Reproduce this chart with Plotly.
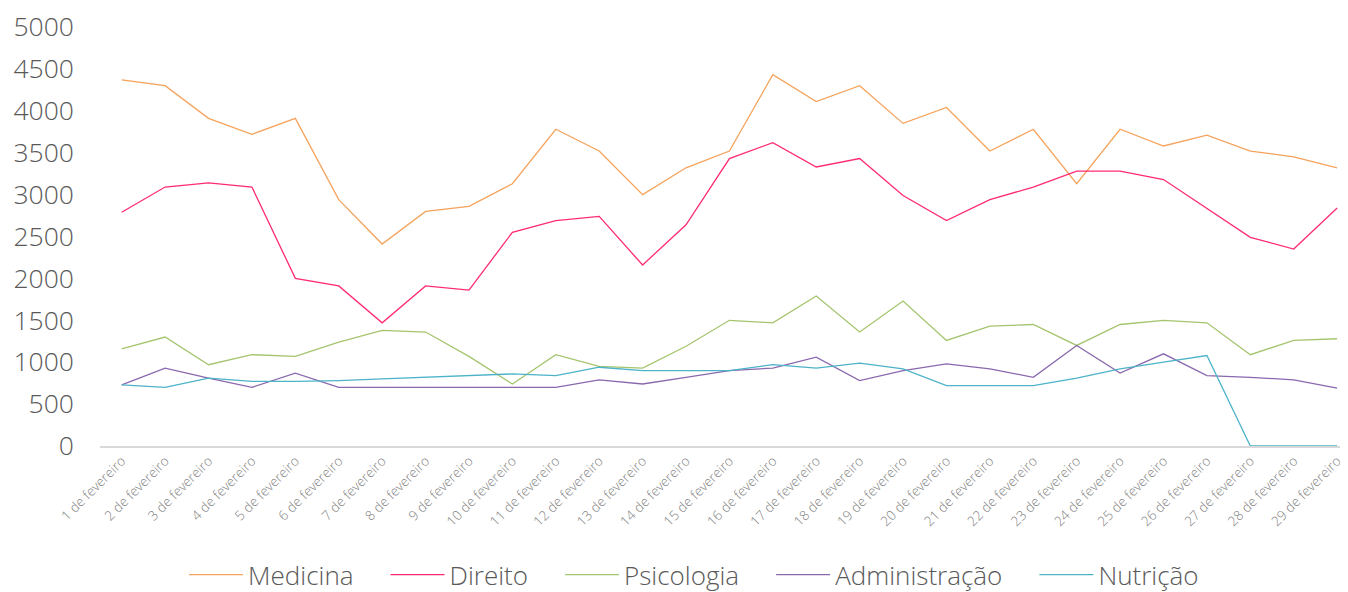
import plotly.graph_objects as go

days = [f"{i} de fevereiro" for i in range(1, 30)]

medicina = [4370, 4300, 3910, 3720, 3910, 2940, 2410, 2800, 2860, 3130,
            3780, 3520, 3000, 3320, 3520, 4430, 4110, 4300, 3850, 4040,
            3520, 3780, 3130, 3780, 3580, 3710, 3520, 3450, 3320]
direito = [2790, 3090, 3140, 3090, 2000, 1910, 1470, 1910, 1860, 2550,
           2690, 2740, 2160, 2640, 3430, 3620, 3330, 3430, 2990, 2690,
           2940, 3090, 3280, 3280, 3180, 2840, 2490, 2350, 2840]
psicologia = [1160, 1300, 970, 1090, 1070, 1240, 1380, 1360, 1070, 740,
              1090, 950, 930, 1190, 1500, 1470, 1790, 1360, 1730, 1260,
              1430, 1450, 1200, 1450, 1500, 1470, 1090, 1260, 1280]
administracao = [730, 930, 810, 700, 870, 700, 700, 700, 700, 700,
                 700, 790, 740, 820, 900, 930, 1060, 780, 900, 980,
                 920, 820, 1200, 870, 1100, 840, 820, 790, 690]
nutricao = [730, 700, 810, 770, 770, 780, 800, 820, 840, 860,
            840, 940, 900, 900, 900, 970, 930, 990, 920, 720,
            720, 720, 810, 920, 1000, 1080, 0, 0, 0]

names = ["Medicina", "Direito", "Psicologia", "Administração", "Nutrição"]
colors = ["#F5A35C", "#FF2A74", "#A5C46E", "#8A68AE", "#4CB3C8"]
values = [medicina, direito, psicologia, administracao, nutricao]

PAD = "\u00a0" * 4  # extra spacing between legend entries

fig = go.Figure()
for i, (name, vals, color) in enumerate(zip(names, values, colors)):
    label = name + (PAD if i < len(names) - 1 else "")
    fig.add_trace(go.Scatter(x=days, y=vals, name=label, mode="lines",
                             line=dict(color=color, width=1.3)))

FONT = "Open Sans"
# page body has an 8px default margin, so the figure is sized to fill the rest
fig.update_layout(
    width=1340, height=584,
    margin=dict(l=92, r=0, t=19, b=146, autoexpand=False),
    paper_bgcolor="white", plot_bgcolor="white",
    font=dict(family=FONT, color="#595959"),
    showlegend=True,
    legend=dict(orientation="h", x=0.512, xanchor="center", xref="container",
                y=-0.307, yanchor="middle",
                font=dict(size=26, family=FONT, color="#595959", weight=300),
                itemwidth=54, traceorder="normal", itemclick=False),
    xaxis=dict(type="category", range=[-0.5, 28.25], showgrid=False,
               showline=True, linecolor="#D9D9D9", linewidth=1.5,
               ticks="", tickangle=-45, automargin=False,
               tickfont=dict(size=13.5, family=FONT, color="#7F7F7F", weight=300),
               zeroline=False),
    yaxis=dict(range=[0, 5000], dtick=500, showgrid=False, zeroline=False,
               showline=False, ticks="", automargin=False,
               tickfont=dict(size=26.5, family=FONT, color="#595959", weight=300),
               ticklabelstandoff=25),
)

fig.write_html("out.html")
